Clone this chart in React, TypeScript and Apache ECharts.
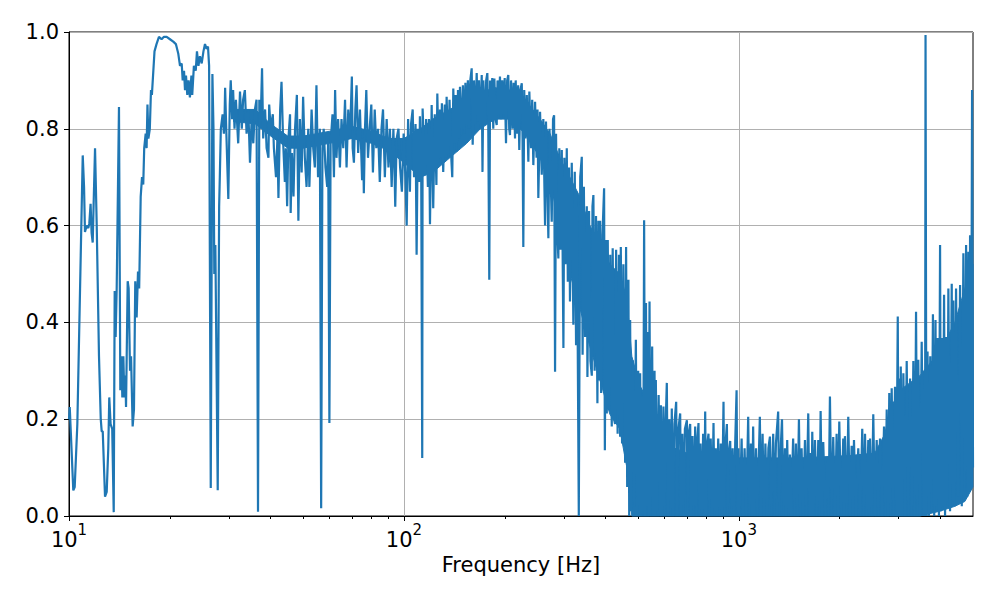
import React, { useEffect, useRef } from "react";
import * as echarts from "echarts";

// ---- data: 10 - 30 Hz (sparse, clearly resolved) ----
const lowFreq = [
  10.0, 10.05, 10.3, 10.4, 10.59, 10.99, 11.09, 11.16, 11.29, 11.42, 11.5, 11.6, 11.68, 11.77, 11.85, 11.96,
  12.1, 12.29, 12.44, 12.52, 12.61, 12.81, 12.96, 13.1, 13.19, 13.31, 13.46, 13.6, 13.69, 13.78, 13.88, 14.1,
  14.23, 14.33, 14.43, 14.53, 14.63, 14.73, 14.8, 14.97, 15.07, 15.21, 15.32, 15.49, 15.63, 15.77, 15.92, 16.07,
  16.2, 16.37, 16.52, 16.66, 16.77, 16.94, 17.05, 17.15, 17.26, 17.43, 17.57, 17.68, 18.0, 18.25, 18.56, 18.9,
  19.21, 19.57, 20.02, 20.48, 20.85, 21.2, 21.45, 21.7, 21.85, 22.05, 22.2, 22.35, 22.55, 22.75, 22.96, 23.2,
  23.33, 23.6, 23.9, 24.1, 24.35, 24.6, 24.9, 25.2, 25.47, 25.75, 26.0, 26.2, 26.5, 26.8, 27.0, 27.15,
  27.35, 27.8, 28.07, 28.2, 28.4, 28.75, 29.0, 29.15, 29.25, 29.5, 29.9, 30.2, 30.4,
];
const lowCoh = [
  0.2, 0.225, 0.053, 0.06, 0.19, 0.745, 0.68, 0.587, 0.6, 0.595, 0.605, 0.645, 0.585, 0.565, 0.65, 0.76,
  0.6, 0.33, 0.2, 0.175, 0.175, 0.04, 0.05, 0.14, 0.245, 0.19, 0.18, 0.008, 0.465, 0.37, 0.47, 0.845,
  0.26, 0.33, 0.245, 0.33, 0.245, 0.29, 0.225, 0.485, 0.47, 0.3, 0.33, 0.185, 0.22, 0.485, 0.41, 0.505,
  0.47, 0.66, 0.7, 0.685, 0.76, 0.79, 0.76, 0.85, 0.78, 0.8, 0.88, 0.87, 0.96, 0.975, 0.99, 0.985,
  0.99, 0.99, 0.985, 0.98, 0.975, 0.955, 0.93, 0.935, 0.9, 0.92, 0.88, 0.91, 0.87, 0.9, 0.865, 0.91,
  0.87, 0.93, 0.92, 0.96, 0.93, 0.95, 0.935, 0.96, 0.975, 0.965, 0.97, 0.93, 0.058, 0.913, 0.8, 0.5,
  0.56, 0.053, 0.64, 0.7, 0.8, 0.83, 0.79, 0.83, 0.885, 0.79, 0.655, 0.85, 0.9,
];

// ---- data: 30 - 100 Hz ----
const midFreq = [
  30.7, 30.9, 31.2, 31.5, 32.0, 32.4, 32.8, 33.1, 33.5, 33.9, 34.3, 34.7, 35.1, 35.5, 35.9, 36.3,
  36.67, 37.0, 37.3, 37.7, 38.0, 38.5, 38.9, 39.4, 39.6, 40.0, 40.6, 40.9, 41.5, 41.9, 42.2, 42.7,
  43.1, 43.6, 44.1, 44.4, 44.8, 45.2, 45.7, 45.9, 46.3, 46.8, 47.3, 47.9, 48.4, 48.9, 49.5, 50.0,
  50.6, 51.2, 51.8, 52.2, 53.0, 53.6, 54.2, 54.8, 55.4, 56.1, 56.6, 57.1, 57.6, 58.3, 59.0, 59.4,
  59.9, 60.4, 61.2, 61.8, 62.3, 62.9, 63.6, 64.4, 65.1, 65.9, 66.7, 67.4, 68.2, 69.0, 69.9, 70.3,
  70.9, 71.6, 72.2, 73.0, 73.9, 74.5, 75.0, 75.5, 75.9, 76.5, 77.2, 78.1, 79.0, 79.9, 80.8, 81.8,
  82.7, 83.7, 84.7, 85.7, 86.6, 87.7, 88.8, 89.9, 90.8, 91.9, 93.0, 93.7, 94.2, 95.1, 96.3, 97.4,
  98.6, 99.8,
];
const midCoh = [
  0.82, 0.88, 0.8, 0.86, 0.77, 0.877, 0.8, 0.86, 0.88, 0.79, 0.84, 0.73, 0.82, 0.77, 0.84, 0.86,
  0.009, 0.86, 0.8, 0.925, 0.78, 0.84, 0.76, 0.74, 0.85, 0.8, 0.83, 0.76, 0.7, 0.78, 0.657, 0.84,
  0.897, 0.77, 0.69, 0.76, 0.64, 0.78, 0.83, 0.626, 0.75, 0.66, 0.8, 0.87, 0.61, 0.82, 0.71, 0.866,
  0.74, 0.68, 0.8, 0.68, 0.84, 0.76, 0.72, 0.89, 0.7, 0.8, 0.016, 0.76, 0.8, 0.72, 0.68, 0.78,
  0.192, 0.77, 0.83, 0.7, 0.88, 0.74, 0.82, 0.72, 0.82, 0.76, 0.86, 0.72, 0.84, 0.78, 0.908, 0.76,
  0.73, 0.84, 0.89, 0.75, 0.84, 0.76, 0.694, 0.78, 0.667, 0.8, 0.88, 0.74, 0.8, 0.85, 0.71, 0.84,
  0.76, 0.8, 0.69, 0.8, 0.84, 0.7, 0.82, 0.72, 0.8, 0.68, 0.8, 0.72, 0.639, 0.78, 0.8, 0.72,
  0.67, 0.79,
];

// ---- data: 100 - 1000 Hz (dense trace: upper and lower excursions) ----
const highFreq = [
  101.0, 101.9, 102.9, 104.2, 105.0, 106.2, 107.2, 108.3, 109.1, 110.0, 111.1, 111.6, 112.6, 113.4, 113.7, 115.5,
  116.5, 117.9, 118.8, 119.6, 121.0, 122.3, 123.6, 125.0, 125.8, 127.0, 128.1, 129.0, 129.8, 131.0, 132.4, 133.4,
  134.1, 135.6, 136.8, 138.0, 139.4, 140.4, 141.6, 142.7, 143.7, 145.0, 146.0, 147.0, 148.7, 150.0, 151.4, 152.6,
  154.0, 155.2, 156.4, 157.8, 159.3, 160.4, 161.8, 163.2, 164.9, 166.2, 167.5, 169.0, 170.7, 171.6, 172.6, 174.6,
  176.0, 177.4, 178.5, 179.8, 180.8, 182.3, 183.5, 184.8, 186.2, 187.7, 189.2, 190.3, 191.8, 193.5, 194.9, 196.6,
  198.2, 199.9, 201.7, 203.3, 204.9, 206.2, 207.3, 208.8, 210.9, 212.5, 214.6, 215.6, 217.6, 219.3, 221.0, 222.7,
  224.8, 226.0, 227.2, 228.6, 230.5, 232.7, 235.2, 236.8, 239.6, 241.5, 243.4, 246.3, 248.9, 250.5, 251.9, 254.9,
  257.9, 260.7, 263.8, 265.5, 269.9, 272.0, 276.2, 278.7, 280.7, 282.6, 284.5, 286.5, 289.1, 291.0, 293.5, 296.0,
  299.3, 301.2, 303.5, 306.3, 308.5, 311.0, 313.1, 317.0, 320.5, 323.6, 326.5, 328.1, 332.7, 336.0, 339.6, 341.5,
  344.5, 347.4, 351.5, 353.0, 357.0, 360.5, 363.8, 365.5, 367.8, 371.0, 374.5, 378.1, 380.7, 383.0, 385.2, 388.0,
  391.5, 395.9, 398.0, 401.0, 403.3, 406.0, 409.5, 413.0, 417.3, 420.0, 424.0, 427.0, 430.0, 434.5, 438.5, 442.0,
  444.1, 448.0, 452.0, 457.5, 460.5, 464.0, 468.0, 470.5, 473.5, 477.0, 482.4, 486.8, 492.5, 495.9, 500.5, 504.0,
  507.2, 510.5, 514.0, 518.0, 521.3, 524.5, 528.0, 531.1, 534.0, 538.0, 541.0, 545.0, 550.9, 554.5, 560.0, 562.3,
  565.0, 570.0, 576.0, 582.0, 585.0, 590.0, 595.4, 600.0, 605.0, 609.3, 614.0, 620.0, 625.5, 630.5, 636.0, 642.0,
  649.8, 654.0, 660.0, 667.9, 672.0, 678.0, 684.0, 690.0, 699.5, 703.0, 708.0, 715.5, 720.0, 727.0, 733.0, 740.5,
  746.0, 752.0, 757.6, 762.0, 768.0, 775.0, 782.0, 788.0, 793.2, 798.0, 805.0, 811.5, 816.0, 824.0, 832.0, 839.9,
  846.0, 853.0, 860.0, 867.5, 875.0, 883.0, 890.0, 899.7, 905.0, 910.3, 920.9, 926.0, 932.4, 942.1, 950.0, 958.0,
  967.0, 975.0, 984.3, 990.0, 997.0,
];
const highCoh = [
  0.7, 0.6, 0.82, 0.67, 0.81, 0.84, 0.7, 0.81, 0.54, 0.8, 0.69, 0.826, 0.72, 0.12, 0.842, 0.705,
  0.82, 0.68, 0.82, 0.603, 0.849, 0.636, 0.83, 0.684, 0.873, 0.73, 0.84, 0.74, 0.853, 0.711, 0.85, 0.74,
  0.866, 0.739, 0.86, 0.76, 0.7, 0.883, 0.77, 0.87, 0.753, 0.88, 0.78, 0.887, 0.787, 0.89, 0.79, 0.895,
  0.808, 0.9, 0.8, 0.9, 0.925, 0.767, 0.9, 0.81, 0.915, 0.815, 0.9, 0.8, 0.911, 0.711, 0.9, 0.808,
  0.9, 0.915, 0.82, 0.488, 0.9, 0.82, 0.905, 0.8, 0.904, 0.82, 0.808, 0.9, 0.83, 0.908, 0.82, 0.9,
  0.83, 0.905, 0.77, 0.9, 0.911, 0.8, 0.787, 0.9, 0.8, 0.895, 0.78, 0.9, 0.79, 0.89, 0.756, 0.88,
  0.894, 0.78, 0.556, 0.88, 0.78, 0.87, 0.732, 0.877, 0.76, 0.86, 0.725, 0.856, 0.74, 0.84, 0.657, 0.835,
  0.705, 0.82, 0.6, 0.815, 0.574, 0.8, 0.608, 0.82, 0.828, 0.298, 0.79, 0.6, 0.532, 0.76, 0.55, 0.756,
  0.347, 0.74, 0.52, 0.76, 0.484, 0.72, 0.443, 0.73, 0.395, 0.711, 0.353, 0.67, 0.0, 0.7, 0.742, 0.333,
  0.68, 0.37, 0.64, 0.287, 0.63, 0.32, 0.29, 0.64, 0.663, 0.3, 0.62, 0.233, 0.61, 0.28, 0.61, 0.254,
  0.58, 0.677, 0.136, 0.57, 0.212, 0.57, 0.22, 0.54, 0.185, 0.553, 0.2, 0.19, 0.55, 0.17, 0.54, 0.164,
  0.556, 0.15, 0.52, 0.11, 0.556, 0.06, 0.488, 0.0, 0.405, 0.01, 0.322, 0.02, 0.364, 0.04, 0.3, 0.0,
  0.295, 0.0, 0.246, 0.01, 0.611, 0.0, 0.44, 0.02, 0.38, 0.0, 0.443, 0.0, 0.35, 0.0, 0.3, 0.0,
  0.281, 0.01, 0.25, 0.0, 0.229, 0.0, 0.226, 0.0, 0.2, 0.275, 0.0, 0.2, 0.0, 0.222, 0.0, 0.19,
  0.236, 0.0, 0.18, 0.212, 0.0, 0.17, 0.0, 0.18, 0.198, 0.0, 0.17, 0.19, 0.0, 0.165, 0.0, 0.185,
  0.0, 0.16, 0.192, 0.0, 0.15, 0.0, 0.17, 0.0, 0.216, 0.0, 0.15, 0.17, 0.0, 0.16, 0.0, 0.192,
  0.0, 0.14, 0.0, 0.16, 0.0, 0.15, 0.0, 0.236, 0.0, 0.14, 0.19, 0.0, 0.13, 0.155, 0.0, 0.14,
  0.0, 0.15, 0.26, 0.0, 0.14,
];

// ---- data: 1000 - 5000 Hz ----
const topFreq = [
  1005, 1019, 1028, 1040, 1052, 1066, 1075, 1086, 1095, 1103, 1112, 1125, 1135, 1155, 1165, 1177,
  1188, 1200, 1212, 1225, 1238, 1250, 1266, 1278, 1290, 1310, 1320, 1335, 1345, 1358, 1372, 1383,
  1394, 1407, 1420, 1430, 1452, 1465, 1480, 1495, 1511, 1525, 1539, 1556, 1575, 1590, 1611, 1624,
  1638, 1647, 1656, 1672, 1687, 1707, 1726, 1740, 1754, 1770, 1786, 1811, 1836, 1852, 1870, 1890,
  1913, 1936, 1958, 1976, 1994, 2022, 2049, 2060, 2073, 2098, 2121, 2146, 2171, 2190, 2206, 2236,
  2272, 2304, 2335, 2358, 2380, 2408, 2434, 2449, 2463, 2492, 2519, 2548, 2579, 2608, 2638, 2675,
  2712, 2737, 2763, 2788, 2812, 2836, 2859, 2892, 2925, 2951, 2981, 2997, 3014, 3028, 3043, 3070,
  3098, 3134, 3170, 3205, 3244, 3282, 3318, 3350, 3380, 3408, 3433, 3474, 3514, 3558, 3583, 3596,
  3608, 3630, 3658, 3694, 3727, 3760, 3796, 3830, 3864, 3891, 3918, 3956, 3987, 4009, 4033, 4064,
  4098, 4126, 4154, 4189, 4221, 4270, 4320, 4344, 4368, 4410, 4450, 4511, 4575, 4629, 4680, 4725,
  4768, 4807, 4845, 4875, 4900, 4934, 4968, 5000,
];
const topCoh = [
  0.0, 0.16, 0.0, 0.14, 0.0, 0.205, 0.0, 0.15, 0.0, 0.185, 0.0, 0.14, 0.0, 0.205, 0.0, 0.17,
  0.0, 0.15, 0.0, 0.14, 0.164, 0.0, 0.17, 0.0, 0.15, 0.216, 0.0, 0.15, 0.2, 0.0, 0.14, 0.0,
  0.157, 0.0, 0.127, 0.0, 0.16, 0.0, 0.15, 0.0, 0.2, 0.0, 0.14, 0.0, 0.157, 0.0, 0.212, 0.0,
  0.13, 0.0, 0.174, 0.0, 0.157, 0.0, 0.157, 0.0, 0.217, 0.0, 0.153, 0.0, 0.117, 0.0, 0.247, 0.0,
  0.163, 0.0, 0.17, 0.0, 0.195, 0.0, 0.16, 0.0, 0.165, 0.0, 0.205, 0.0, 0.145, 0.0, 0.157, 0.0,
  0.14, 0.0, 0.18, 0.0, 0.17, 0.0, 0.157, 0.0, 0.16, 0.0, 0.21, 0.0, 0.157, 0.0, 0.16, 0.0,
  0.185, 0.0, 0.22, 0.0, 0.254, 0.0, 0.264, 0.0, 0.267, 0.0, 0.412, 0.0, 0.284, 0.0, 0.309, 0.0,
  0.295, 0.0, 0.32, 0.0, 0.284, 0.0, 0.32, 0.0, 0.422, 0.0, 0.323, 0.0, 0.36, 0.0, 0.3, 0.0,
  0.994, 0.0, 0.34, 0.0, 0.33, 0.01, 0.417, 0.0, 0.405, 0.02, 0.368, 0.0, 0.56, 0.01, 0.368, 0.02,
  0.457, 0.0, 0.37, 0.03, 0.47, 0.01, 0.48, 0.03, 0.445, 0.02, 0.47, 0.04, 0.477, 0.02, 0.543, 0.05,
  0.56, 0.04, 0.546, 0.05, 0.58, 0.08, 0.88, 0.1,
];

// ---- dense-region body (solid core of the trace, lower and upper edge) ----
const bandFreq = [
  31, 36, 40, 45, 50, 55, 60, 70, 80, 90,
  100, 112, 122, 137, 154, 169, 187, 207, 230, 255, 273, 292, 313, 335, 359, 385, 412, 441, 463, 479,
  506, 542, 581, 644, 765, 1000, 1520, 2145, 2547, 2729, 2823, 3024, 3470, 3981, 4414, 4727, 5000,
];
const bandLow = [
  0.815, 0.81, 0.785, 0.76, 0.76, 0.765, 0.77, 0.78, 0.77, 0.755,
  0.73, 0.7, 0.71, 0.74, 0.77, 0.8, 0.82, 0.82, 0.79, 0.74, 0.69, 0.6, 0.5, 0.43, 0.35, 0.28, 0.21, 0.18, 0.1, 0.0,
  0.0, 0.0, 0.0, 0.0, 0.0, 0.0, 0.0, 0.0, 0.0, 0.0, 0.0, 0.0, 0.0, 0.01, 0.02, 0.03, 0.06,
];
const bandHigh = [
  0.84, 0.84, 0.81, 0.785, 0.785, 0.79, 0.795, 0.805, 0.795, 0.78,
  0.78, 0.8, 0.82, 0.84, 0.86, 0.875, 0.885, 0.88, 0.86, 0.82, 0.79, 0.74, 0.7, 0.66, 0.6, 0.56, 0.52, 0.5, 0.45, 0.33,
  0.27, 0.23, 0.18, 0.14, 0.12, 0.12, 0.12, 0.125, 0.13, 0.17, 0.22, 0.26, 0.29, 0.34, 0.4, 0.47, 0.52,
];

// ---- axis ticks ----
const majorTicks = [10, 100, 1000];
const minorTicks = [20, 30, 40, 50, 60, 70, 80, 90, 200, 300, 400, 500, 600, 700, 800, 900, 2000, 3000, 4000];
const yTicks = [0, 0.2, 0.4, 0.6, 0.8, 1.0];

const FONT = "DejaVu Sans";
const BLUE = "#1f77b4";

export default function App() {
  const ref = useRef<HTMLDivElement>(null);

  useEffect(() => {
    if (!ref.current) return;
    const chart = echarts.init(ref.current, undefined, { renderer: "svg" });

    const freqs = [...lowFreq, ...midFreq, ...highFreq, ...topFreq];
    const cohs = [...lowCoh, ...midCoh, ...highCoh, ...topCoh];
    const lineData = freqs.map((f, i) => [f, cohs[i]]);
    const bandData = bandFreq.map((f, i) => [f, bandLow[i], bandHigh[i]]);

    chart.setOption({
      animation: false,
      backgroundColor: "#ffffff",
      grid: {
        left: 69,
        right: 27,
        top: 32,
        bottom: 84,
        show: true,
        borderColor: "#000000",
        borderWidth: 1,
        backgroundColor: "transparent",
      },
      xAxis: [
        {
          type: "log",
          logBase: 10,
          min: 10,
          max: 5000,
          name: "Frequency [Hz]",
          nameLocation: "middle",
          nameGap: 37,
          nameTextStyle: { fontFamily: FONT, fontSize: 21, color: "#000" },
          axisLine: { show: true, lineStyle: { color: "#000", width: 1 } },
          axisTick: {
            show: true,
            length: 5,
            inside: false,
            customValues: majorTicks,
            lineStyle: { color: "#000", width: 1 },
          },
          axisLabel: {
            show: true,
            margin: 6,
            customValues: majorTicks,
            formatter: (v: number) => {
              const e = Math.round(Math.log10(v));
              if (Math.abs(Math.pow(10, e) - v) > 1e-6 * v) return "";
              return "{b|10}{s|" + e + "}";
            },
            rich: {
              b: { fontFamily: FONT, fontSize: 21, color: "#000", lineHeight: 28, verticalAlign: "bottom" },
              s: { fontFamily: FONT, fontSize: 15, color: "#000", lineHeight: 20, verticalAlign: "top" },
            },
          },
          splitLine: { show: true, lineStyle: { color: "#b0b0b0", width: 1 } },
        },
        {
          type: "log",
          logBase: 10,
          min: 10,
          max: 5000,
          gridIndex: 0,
          position: "bottom",
          axisLine: { show: false },
          axisLabel: { show: false },
          splitLine: { show: false },
          axisTick: {
            show: true,
            length: 3,
            inside: false,
            customValues: minorTicks,
            lineStyle: { color: "#000", width: 1 },
          },
        },
      ],
      yAxis: {
        type: "value",
        min: 0,
        max: 1,
        interval: 0.2,
        axisLine: { show: true, lineStyle: { color: "#000", width: 1 } },
        axisTick: { show: true, length: 5, inside: false, customValues: yTicks, lineStyle: { color: "#000", width: 1 } },
        axisLabel: {
          margin: 10,
          fontFamily: FONT,
          fontSize: 21,
          color: "#000",
          formatter: (v: number) => v.toFixed(1),
        },
        splitLine: { show: true, lineStyle: { color: "#b0b0b0", width: 1 } },
      },
      series: [
        {
          type: "custom",
          xAxisIndex: 0,
          yAxisIndex: 0,
          data: bandData,
          encode: { x: 0, y: [1, 2] },
          silent: true,
          z: 2,
          renderItem: (params: any, api: any) => {
            if (params.dataIndex !== 0) return null;
            const upper = bandData.map((d) => api.coord([d[0], d[2]]));
            const lower = bandData.map((d) => api.coord([d[0], d[1]])).reverse();
            return {
              type: "polygon",
              shape: { points: upper.concat(lower) },
              style: { fill: BLUE, stroke: BLUE, lineWidth: 1 },
            };
          },
        },
        {
          type: "line",
          xAxisIndex: 0,
          data: lineData,
          symbol: "none",
          showSymbol: false,
          clip: true,
          lineStyle: { color: BLUE, width: 2.2 },
          z: 3,
        },
      ],
    });

    return () => chart.dispose();
  }, []);

  return (
    <div
      ref={ref}
      style={{ position: "fixed", left: 0, top: 0, width: 1000, height: 600, background: "#fff" }}
    />
  );
}
